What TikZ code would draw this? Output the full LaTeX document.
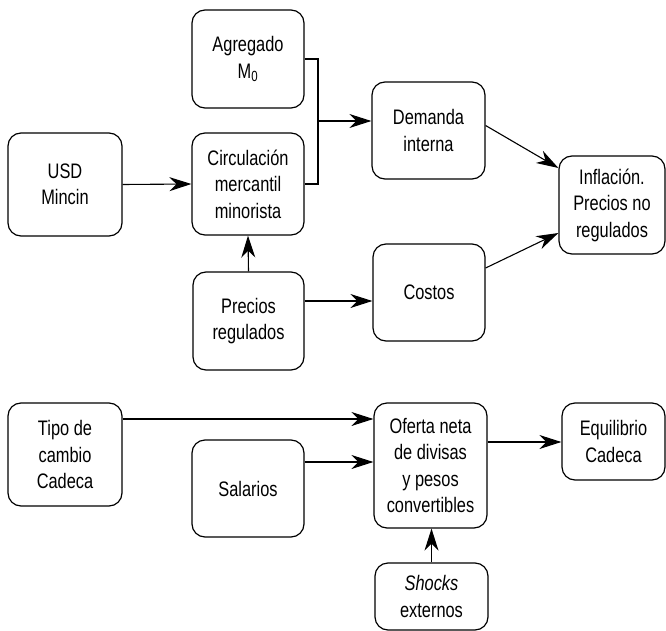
\documentclass[tikz,border=0pt]{standalone}
\usepackage{fontspec}
\setmainfont{Liberation Sans}[FakeStretch=0.78]
\usetikzlibrary{arrows.meta,calc}
\begin{document}
\begin{tikzpicture}[x=1pt,y=-1pt,
  box/.style={draw, rounded corners=13pt, line width=1.2pt, align=center, inner sep=0pt,
    font=\fontsize{21}{26.5}\selectfont},
  conn/.style={line width=1.1pt},
  arr/.style={conn, -{Stealth[length=22pt,width=14pt,inset=7pt]}}]
\useasboundingbox (0,0) rectangle (666,631);
\node[box, minimum width=112pt, minimum height=98pt]  (agr)  at (248,59)    {Agregado\\M\textsubscript{0}};
\node[box, minimum width=112pt, minimum height=102pt] (circ) at (248,184)   {Circulación\\mercantil\\minorista};
\node[box, minimum width=114pt, minimum height=103pt] (usd)  at (65,184.5)  {USD\\Mincin};
\node[box, minimum width=111pt, minimum height=98pt]  (prec) at (248.5,321) {Precios\\regulados};
\node[box, minimum width=113pt, minimum height=97pt]  (dem)  at (428.5,130.5) {Demanda\\interna};
\node[box, minimum width=112pt, minimum height=97pt]  (cost) at (429,292.5) {Costos};
\node[box, minimum width=106pt, minimum height=98pt]  (inf)  at (612,205)   {Inflación.\\Precios no\\regulados};
\node[box, minimum width=114pt, minimum height=103pt] (tipo) at (65,454.5)  {Tipo de\\cambio\\Cadeca};
\node[box, minimum width=112pt, minimum height=97pt]  (sal)  at (248,488.5) {Salarios};
\node[box, minimum width=113pt, minimum height=125pt] (ofe)  at (430.5,465.5) {Oferta neta\\de divisas\\y pesos\\convertibles};
\node[box, minimum width=103pt, minimum height=77pt]  (equ)  at (613.5,441.5) {Equilibrio\\Cadeca};
\node[box, minimum width=113pt, minimum height=67pt]  (sho)  at (431.5,596.5) {\textit{Shocks}\\externos};
\coordinate (j) at (318,121);
\draw[conn] (agr.east) -| (j) |- (circ.east);
\draw[arr] (j) -- (j -| dem.west);
\draw[arr] (usd.east) -- (circ.west);
\draw[arr] (prec.north) -- (circ.south);
\coordinate (p1) at ([yshift=20pt]prec.east);
\draw[arr] (p1) -- (p1 -| cost.west);
\draw[arr] ([yshift=5pt]dem.east) -- ([yshift=37pt]inf.west);
\draw[arr] ([yshift=24.5pt]cost.east) -- ([yshift=-28pt]inf.west);
\coordinate (t1) at ([yshift=35.5pt]tipo.east);
\draw[arr] (t1) -- (t1 -| ofe.west);
\coordinate (s1) at ([yshift=26.5pt]sal.east);
\draw[arr] (s1) -- (s1 -| ofe.west);
\coordinate (o1) at ([yshift=23.5pt]ofe.east);
\draw[arr] (o1) -- (o1 -| equ.west);
\draw[arr] (sho.north) -- (sho.north |- ofe.south);
\end{tikzpicture}
\end{document}
